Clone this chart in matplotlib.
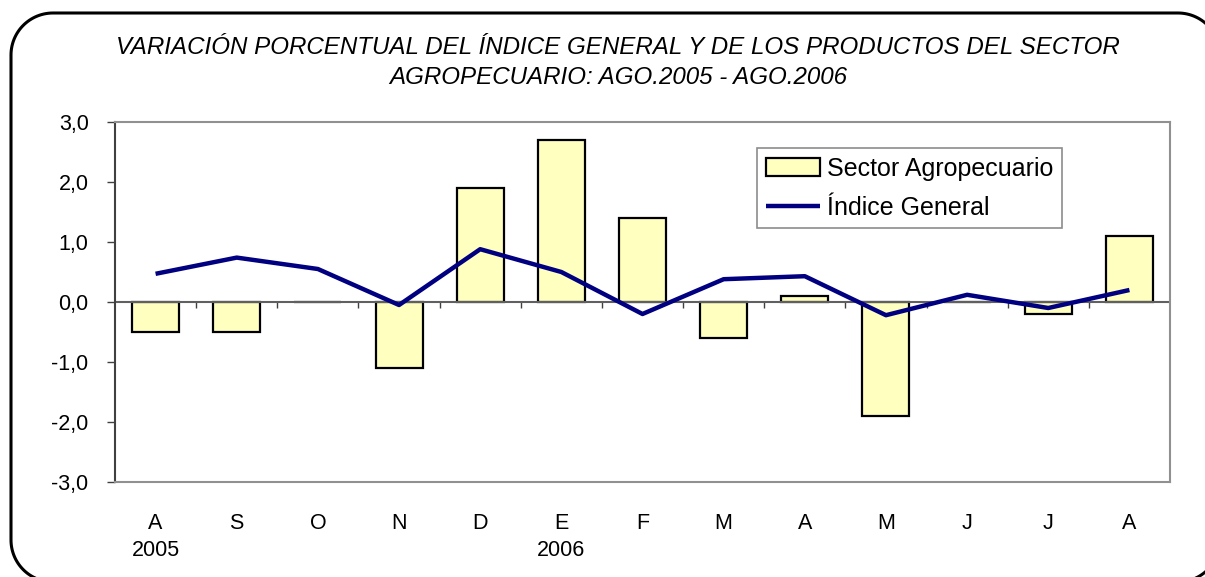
"""
Variación porcentual del índice general y del sector agropecuario
"""
import matplotlib.pyplot as plt
from matplotlib.lines import Line2D
from matplotlib.ticker import FuncFormatter
import numpy as np

# Data
months = ["A", "S", "O", "N", "D", "E", "F", "M", "A", "M", "J", "J", "A"]
years = {0: "2005", 5: "2006"}
sector_agropecuario = [-0.5, -0.5, 0.0, -1.1, 1.9, 2.7, 1.4, -0.6, 0.1, -1.9, 0.0, -0.2, 1.1]
indice_general = [0.47, 0.74, 0.55, -0.05, 0.88, 0.50, -0.20, 0.38, 0.43, -0.22, 0.12, -0.10, 0.20]

plt.rcParams["font.family"] = ["Liberation Sans", "DejaVu Sans"]

fig = plt.figure(figsize=(12.05, 5.77), dpi=100)

# rounded frame around the whole chart, in inches (100 px each)
r = 0.42
x0, x1, y0, y1 = 0.11, 12.20, -0.05, 5.64
corners = [((x1 - r, y1 - r), 0), ((x0 + r, y1 - r), 90),
           ((x0 + r, y0 + r), 180), ((x1 - r, y0 + r), 270)]
fx, fy = [], []
for (cx, cy), a0 in corners:
    t = np.radians(np.linspace(a0, a0 + 90, 30))
    fx.extend(cx + r * np.cos(t))
    fy.extend(cy + r * np.sin(t))
fx.append(fx[0])
fy.append(fy[0])
fig.add_artist(Line2D(fx, fy, transform=fig.dpi_scale_trans, color="black", linewidth=2.2))

ax = fig.add_axes([115 / 1205, 95 / 577, 1055 / 1205, 360 / 577])
x = np.arange(len(months))

bars = ax.bar(x, sector_agropecuario, width=0.58, color="#FFFFC0", edgecolor="black",
              linewidth=1.6, zorder=2)
line, = ax.plot(x, indice_general, color="#000080", linewidth=3.2, zorder=3,
                solid_capstyle="butt")

ax.axhline(0, color="#606060", linewidth=1.5, zorder=2.5)
ax.vlines(x[:-1] + 0.5, -0.1, 0, color="#404040", linewidth=1, zorder=1)

ax.set_xlim(-0.5, len(months) - 0.5)
ax.set_ylim(-3, 3)
ax.set_yticks(np.arange(-3, 3.1, 1))
ax.yaxis.set_major_formatter(FuncFormatter(lambda v, p: f"{v:.1f}".replace(".", ",")))
ax.tick_params(axis="y", length=6, width=1, color="#404040", labelsize=15.5, pad=13)

ax.set_xticks(x)
ax.set_xticklabels(months)
ax.tick_params(axis="x", length=0, labelsize=15.5, pad=22)
for i, yr in years.items():
    ax.text(i, -0.189, yr, transform=ax.get_xaxis_transform(), ha="center", va="center",
            fontsize=15.5)

for side in ["top", "right", "bottom"]:
    ax.spines[side].set_color("#909090")
    ax.spines[side].set_linewidth(1.5)
ax.spines["left"].set_color("#404040")
ax.spines["left"].set_linewidth(1.5)

leg = ax.legend([bars, line], ["Sector Agropecuario", "Índice General"],
                loc="upper right", bbox_to_anchor=(0.898, 0.928), fontsize=18,
                frameon=True, fancybox=False, edgecolor="#707070", borderpad=0.35,
                handlelength=2.15, handleheight=0.7, handletextpad=0.3, labelspacing=0.6,
                borderaxespad=0)
leg.get_frame().set_linewidth(1.2)

fig.text(0.513, 0.918, "VARIACIÓN PORCENTUAL DEL ÍNDICE GENERAL Y DE LOS PRODUCTOS DEL SECTOR",
         ha="center", va="center", fontsize=17.4, style="italic")
fig.text(0.513, 0.866, "AGROPECUARIO: AGO.2005 - AGO.2006",
         ha="center", va="center", fontsize=17.4, style="italic")

fig.savefig("out.png", dpi=100)
